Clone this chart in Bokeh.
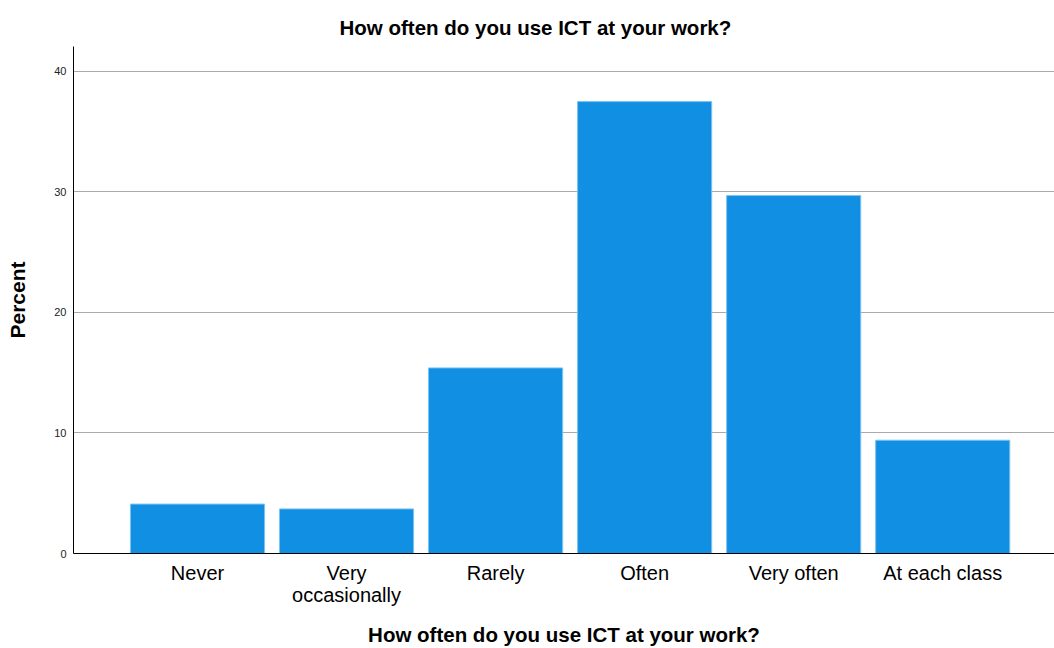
from bokeh.plotting import figure
from bokeh.models import Range1d, FixedTicker, Title
from bokeh.embed import file_html
from bokeh.resources import INLINE

categories = ["Never", "Very\noccasionally", "Rarely", "Often", "Very often", "At each class"]
percent = [4.1, 3.7, 15.4, 37.5, 29.7, 9.4]
y_ticks = [0, 10, 20, 30, 40]

xs = list(range(len(categories)))

p = figure(width=1054, height=648, output_backend="svg", toolbar_location=None,
           x_range=Range1d(-0.832, 5.75), y_range=Range1d(0, 42.07),
           min_border_left=73, min_border_right=0, min_border_top=46, min_border_bottom=94)
p.outline_line_color = None
p.background_fill_color = "white"
p.border_fill_color = "white"

p.vbar(x=xs, top=percent, width=0.9, bottom=0, fill_color="#1190E3", line_color="#7cc3f2", line_width=1)

p.title = Title(text="How often do you use ICT at your work?", align="left",
                text_font="Liberation Sans", text_font_size="20.5px", text_font_style="bold",
                text_color="black", offset=266, standoff=16)

p.xgrid.grid_line_color = None
p.ygrid.grid_line_color = "#aaaaaa"
p.ygrid.grid_line_width = 1
p.ygrid.ticker = FixedTicker(ticks=y_ticks[1:])

p.xaxis.ticker = FixedTicker(ticks=xs)
p.xaxis.major_label_overrides = {i: c for i, c in enumerate(categories)}
p.xaxis.major_label_text_font = "Liberation Sans"
p.xaxis.major_label_text_font_size = "20px"
p.xaxis.major_label_text_line_height = 1.0
p.xaxis.major_label_text_color = "black"
p.xaxis.major_label_standoff = 8
p.xaxis.major_tick_out = 0
p.xaxis.major_tick_in = 0
p.xaxis.minor_tick_out = 0
p.xaxis.minor_tick_in = 0
p.xaxis.axis_line_color = "black"
p.xaxis.axis_label = "How often do you use ICT at your work?"
p.xaxis.axis_label_text_font = "Liberation Sans"
p.xaxis.axis_label_text_font_size = "20.5px"
p.xaxis.axis_label_text_font_style = "bold"
p.xaxis.axis_label_text_color = "black"
p.xaxis.axis_label_standoff = 14

p.yaxis.ticker = FixedTicker(ticks=y_ticks)
p.yaxis.major_label_text_font = "Liberation Sans"
p.yaxis.major_label_text_font_size = "11px"
p.yaxis.major_label_text_color = "#222222"
p.yaxis.major_label_standoff = 7
p.yaxis.major_tick_out = 0
p.yaxis.major_tick_in = 0
p.yaxis.minor_tick_out = 0
p.yaxis.minor_tick_in = 0
p.yaxis.axis_line_color = "black"
p.yaxis.axis_label = "Percent"
p.yaxis.axis_label_text_font = "Liberation Sans"
p.yaxis.axis_label_text_font_size = "21px"
p.yaxis.axis_label_text_font_style = "bold"
p.yaxis.axis_label_text_color = "black"
p.yaxis.axis_label_standoff = 22

open("out.html", "w").write(file_html(p, INLINE))
